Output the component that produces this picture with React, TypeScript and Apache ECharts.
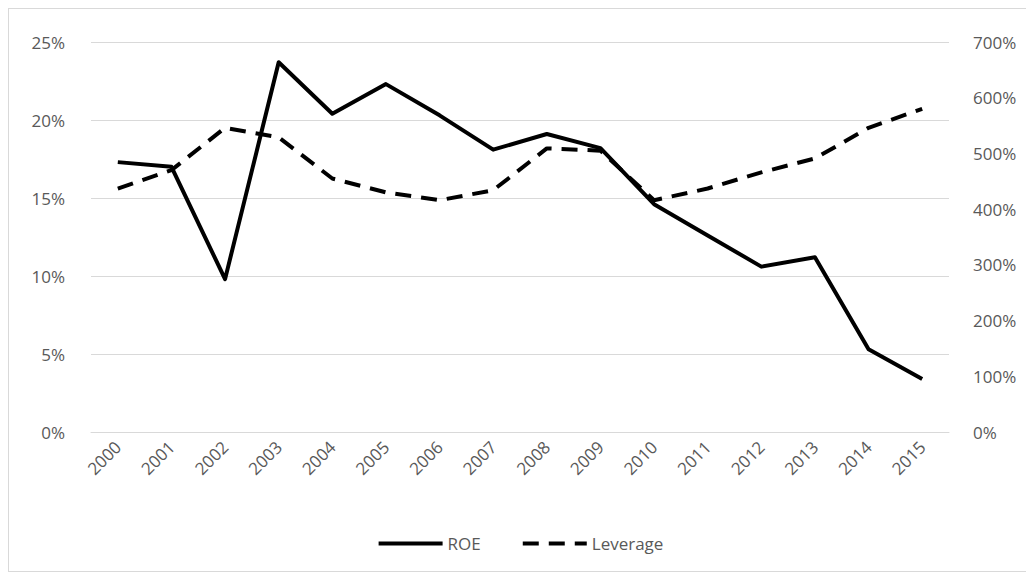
import * as echarts from 'echarts'
import { useEffect, useRef } from 'react'

const years = ['2000', '2001', '2002', '2003', '2004', '2005', '2006', '2007', '2008', '2009', '2010', '2011', '2012', '2013', '2014', '2015']
const roe = [17.3, 17.0, 9.8, 23.7, 20.4, 22.3, 20.3, 18.1, 19.1, 18.2, 14.6, 12.6, 10.6, 11.2, 5.3, 3.4]
const leverage = [437, 470, 546, 529, 455, 430, 416, 434, 509, 505, 416, 437, 466, 491, 546, 580]

const font = 'Open Sans'
const grey = '#595959'

const App = () => {
	const chartRef = useRef(null)

	useEffect(() => {
		const chart = echarts.init(chartRef.current, null, { renderer: 'svg' })
		chart.setOption({
			animation: false,
			textStyle: { fontFamily: font },
			grid: { left: 82, right: 82, top: 33, bottom: 139 },
			legend: {
				bottom: 14,
				itemWidth: 64,
				itemGap: 40,
				itemStyle: { opacity: 0 },
				lineStyle: { width: 4 },
				textStyle: { fontSize: 17, color: grey, fontFamily: font },
				data: ['ROE', 'Leverage'],
			},
			xAxis: {
				type: 'category',
				data: years,
				axisLine: { lineStyle: { color: '#d9d9d9' } },
				axisTick: { show: false },
				axisLabel: { rotate: 45, fontSize: 17, color: grey, margin: 12 },
			},
			yAxis: [
				{
					type: 'value',
					min: 0,
					max: 25,
					interval: 5,
					axisLabel: { formatter: '{value}%', fontSize: 17, color: grey, margin: 26 },
					splitLine: { lineStyle: { color: '#d9d9d9' } },
				},
				{
					type: 'value',
					min: 0,
					max: 700,
					interval: 100,
					axisLabel: { formatter: '{value}%', fontSize: 17, color: grey, margin: 24 },
					splitLine: { show: false },
				},
			],
			series: [
				{
					name: 'ROE',
					type: 'line',
					data: roe,
					symbol: 'none',
					lineStyle: { color: '#000', width: 4, join: 'round' },
					itemStyle: { color: '#000' },
				},
				{
					name: 'Leverage',
					type: 'line',
					yAxisIndex: 1,
					data: leverage,
					symbol: 'none',
					lineStyle: { color: '#000', width: 4, type: [16, 10] },
					itemStyle: { color: '#000' },
				},
			],
		})
		return () => chart.dispose()
	}, [])

	return <div ref={chartRef} style={{ width: 1024, height: 564, border: '1px solid #d9d9d9', boxSizing: 'border-box' }} />
}

export default App
